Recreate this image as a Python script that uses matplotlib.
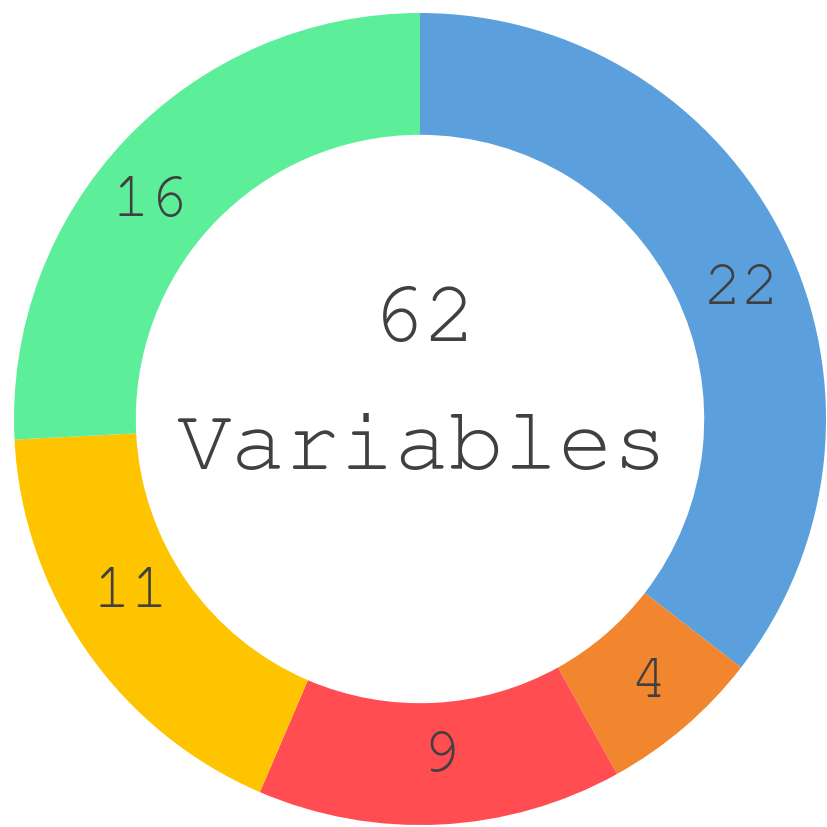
import matplotlib
matplotlib.use("Agg")
import matplotlib.pyplot as plt
from matplotlib import font_manager
import numpy as np

# Variable counts per group, drawn clockwise from 12 o'clock
counts = [22, 4, 9, 11, 16]
colors = ["#5B9FDD", "#F2862E", "#FF4D52", "#FFC400", "#5DEE9A"]
total_label = "Variables"

# label placement: angular nudge (deg) from segment middle and radial position
label_nudge = [-3.5, 0.7, 0.6, -4.6, 4.0]
label_radius = [0.86, 0.85, 0.82, 0.825, 0.862]

# prefer a slab-serif typewriter face when one is installed
available = {f.name for f in font_manager.fontManager.ttflist}
font = next((f for f in ["Courier New", "Nimbus Mono PS", "FreeMono", "Courier",
                         "Liberation Mono"] if f in available), "DejaVu Sans Mono")

fig = plt.figure(figsize=(8.28, 8.28), dpi=100)
ax = fig.add_axes([0, 0, 1, 1])

wedges, _ = ax.pie(counts, colors=colors, startangle=90, counterclock=False,
                   radius=1.0, wedgeprops=dict(width=0.30, edgecolor="none"))

ax.set_xlim(-1.0345, 1.0049)
ax.set_ylim(-1.0049, 1.0345)
ax.set_aspect("equal")
ax.axis("off")

txt_color = "#404040"

# value labels inside each ring segment
for w, v, dn, r in zip(wedges, counts, label_nudge, label_radius):
    ang = np.deg2rad((w.theta1 + w.theta2) / 2 + dn)
    ax.text(r * np.cos(ang), r * np.sin(ang) - 0.012, str(v), ha="center",
            va="center", fontsize=46, family=font, color=txt_color)

ax.text(0.01, 0.24, str(sum(counts)), ha="center", va="center",
        fontsize=64, family=font, color=txt_color)
ax.text(0.005, -0.075, total_label, ha="center", va="center",
        fontsize=65.5, family=font, color=txt_color)

fig.savefig("out.png", dpi=100, facecolor="white")
